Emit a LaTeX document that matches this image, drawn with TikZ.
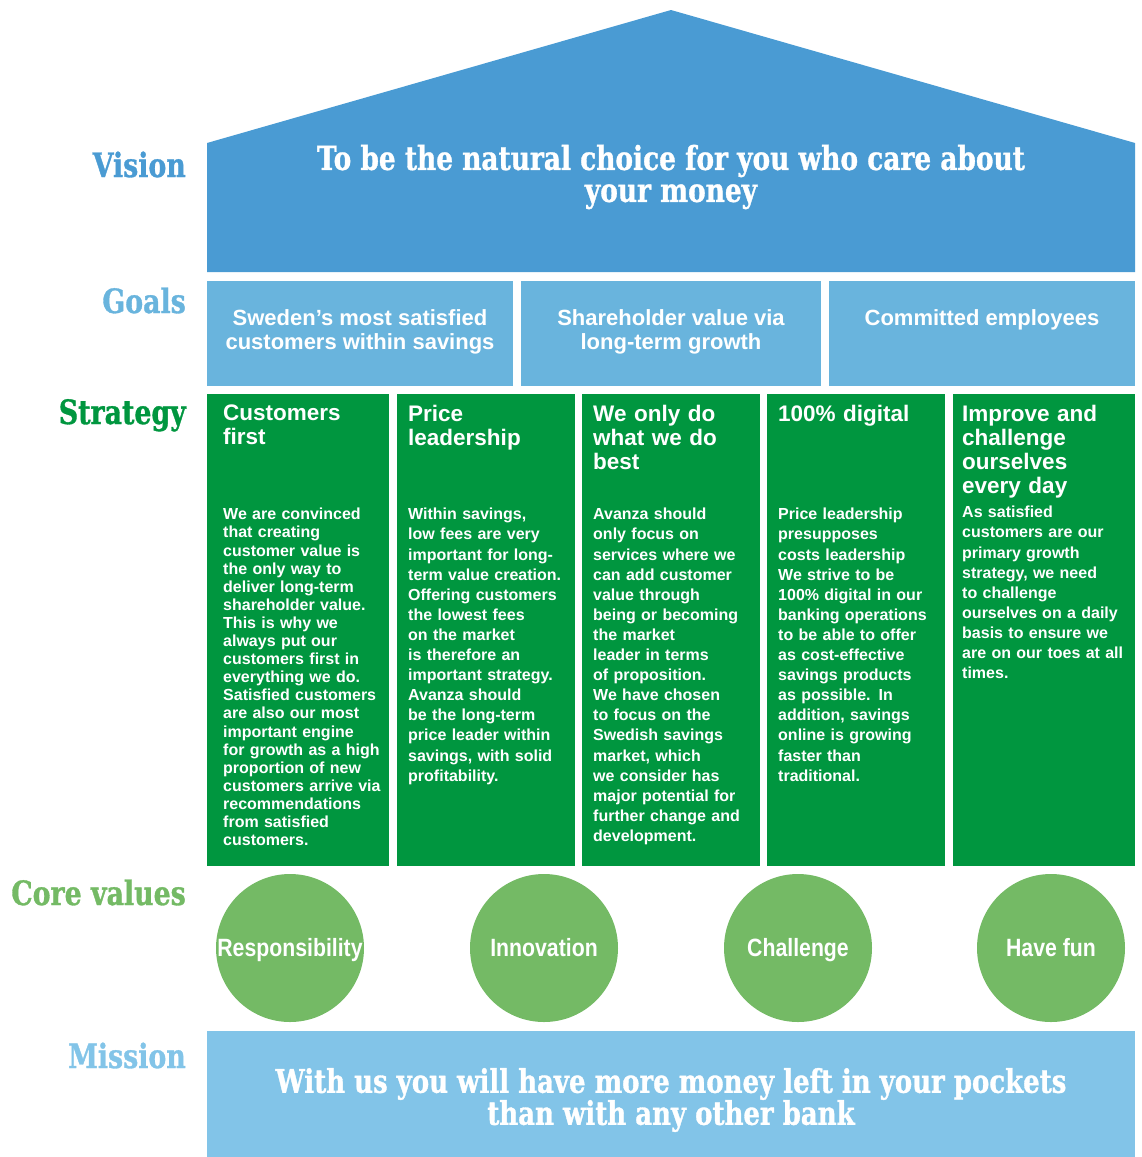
\documentclass[tikz,border=0pt]{standalone}
\usepackage{fontspec}
\setmainfont{Liberation Sans}
\newfontfamily\slabfont[FakeStretch=0.8,FakeBold=1]{DejaVu Serif}
\newfontfamily\condfont[FakeStretch=0.85]{Liberation Sans}
\usepackage{xcolor}
\definecolor{visionblue}{HTML}{4A9BD3}
\definecolor{goalblue}{HTML}{69B4DD}
\definecolor{stratgreen}{HTML}{00963F}
\definecolor{valgreen}{HTML}{74BA65}
\definecolor{missionblue}{HTML}{82C4E8}

\begin{document}
\begin{tikzpicture}[x=1pt,y=-1pt]

    \tikzset{sidelabel/.style = {anchor=base east, inner sep=0pt, font=\slabfont\bfseries\fontsize{33.5}{36}\selectfont}}
    \tikzset{bigtext/.style = {text=white, align=center, inner sep=0pt, font=\slabfont\bfseries\fontsize{33}{32}\selectfont}}
    \tikzset{goal/.style = {fill=goalblue, minimum height=105pt, inner sep=0pt}}
    \tikzset{goaltext/.style = {anchor=north, inner sep=0pt, text=white, align=center, font=\bfseries\fontsize{22}{24}\selectfont}}
    \tikzset{column/.style = {fill=stratgreen, minimum height=472pt, inner sep=0pt}}
    \tikzset{head/.style = {anchor=north west, inner sep=0pt, text width=180pt, align=left, text=white, font=\bfseries\fontsize{22.5}{24}\selectfont}}
    \tikzset{body/.style = {anchor=north west, inner sep=0pt, text width=185pt, align=left, text=white, font=\bfseries\fontsize{16}{20.1}\selectfont}}
    \tikzset{value/.style = {shape=circle, fill=valgreen, minimum size=148pt, inner sep=0pt, text height=22pt, text depth=5pt, text=white, font=\condfont\bfseries\fontsize{25}{27}\selectfont}}
    \useasboundingbox (0,0) rectangle (1141,1157);

    %labels
    \node[sidelabel, text=visionblue] (LV) at (186,177) {Vision};
    \node[sidelabel, text=goalblue] (LG) at (186,313) {Goals};
    \node[sidelabel, text=stratgreen] (LS) at (186,424) {Strategy};
    \node[sidelabel, text=valgreen] (LC) at (186,905) {Core values};
    \node[sidelabel, text=missionblue] (LM) at (186,1068) {Mission};

    %vision
    \fill[visionblue] (207,143) -- (671,10) -- (1135,143) -- (1135,272) -- (207,272) -- cycle;
    \node[bigtext] (V) at (671,177) {To be the natural choice for you who care about\\your money};

    %goals
    \node[goal, minimum width=306pt] (G1) at (360,333.5) {};
    \node[goal, minimum width=300pt] (G2) at (671,333.5) {};
    \node[goal, minimum width=306pt] (G3) at (982,333.5) {};
    \node[goaltext] (GT1) at (360,309) {Sweden's most satisfied\\customers within savings};
    \node[goaltext] (GT2) at (671,309) {Shareholder value via\\long-term growth};
    \node[goaltext] (GT3) at (982,309) {Committed employees};

    %strategy
    \node[column, minimum width=182pt] (S1) at (298,630) {};
    \node[column, minimum width=178pt] (S2) at (486,630) {};
    \node[column, minimum width=178pt] (S3) at (671,630) {};
    \node[column, minimum width=178pt] (S4) at (856,630) {};
    \node[column, minimum width=182pt] (S5) at (1044,630) {};

    \node[head] (H1) at (223,405) {Customers\\first};
    \node[head] (H2) at (408,405) {Price\\leadership};
    \node[head] (H3) at (593,405) {We only do\\what we do\\best};
    \node[head] (H4) at (778,405) {100\% digital};
    \node[head] (H5) at (962,405) {Improve and\\challenge\\ourselves\\every day};

    \node[body, font=\bfseries\fontsize{16}{18.1}\selectfont] (B1) at (223,508) {We are convinced\\that creating\\customer value is\\the only way to\\deliver long-term\\shareholder value.\\This is why we\\always put our\\customers first in\\everything we do.\\Satisfied customers\\are also our most\\important engine\\for growth as a high\\proportion of new\\customers arrive via\\recommendations\\from satisfied\\customers.};
    \node[body] (B2) at (408,508) {Within savings,\\low fees are very\\important for long-\\term value creation.\\Offering customers\\the lowest fees\\on the market\\is therefore an\\important strategy.\\Avanza should\\be the long-term\\price leader within\\savings, with solid\\profitability.};
    \node[body] (B3) at (593,508) {Avanza should\\only focus on\\services where we\\can add customer\\value through\\being or becoming\\the market\\leader in terms\\of proposition.\\We have chosen\\to focus on the\\Swedish savings\\market, which\\we consider has\\major potential for\\further change and\\development.};
    \node[body] (B4) at (778,508) {Price leadership\\presupposes\\costs leadership\\We strive to be\\100\% digital in our\\banking operations\\to be able to offer\\as cost-effective\\savings products\\as possible. In\\addition, savings\\online is growing\\faster than\\traditional.};
    \node[body] (B5) at (962,506) {As satisfied\\customers are our\\primary growth\\strategy, we need\\to challenge\\ourselves on a daily\\basis to ensure we\\are on our toes at all\\times.};

    %core values
    \node[value] (C1) at (290,948) {Responsibility};
    \node[value] (C2) at (544,948) {Innovation};
    \node[value] (C3) at (798,948) {Challenge};
    \node[value] (C4) at (1051,948) {Have fun};

    %mission
    \node[fill=missionblue, minimum width=928pt, minimum height=126pt, inner sep=0pt] (M) at (671,1094) {};
    \node[bigtext, font=\slabfont\bfseries\fontsize{32.5}{32}\selectfont] (MT) at (671,1100) {With us you will have more money left in your pockets\\than with any other bank};
\end{tikzpicture}
\end{document}
